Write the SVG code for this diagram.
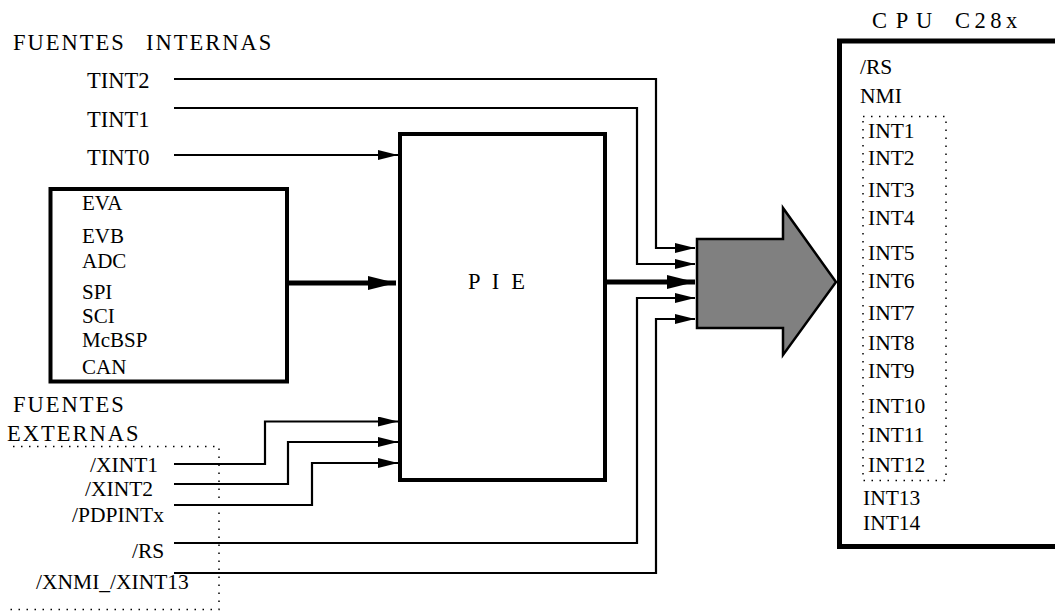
<svg xmlns="http://www.w3.org/2000/svg" width="1055" height="611" viewBox="0 0 1055 611">
<style>
text{font-family:"Liberation Serif","Times New Roman",serif;fill:#000;}
.t{font-size:22.5px;}
.h{font-size:22.5px;letter-spacing:2px;}
.s{font-size:21px;}
.c{font-size:21.5px;}
.box{fill:#fff;stroke:#000;stroke-width:4;}
.w{fill:none;stroke:#000;stroke-width:2.2;}
.wt{fill:none;stroke:#000;stroke-width:5;}
.dot{fill:none;stroke:#000;stroke-width:1.5;stroke-dasharray:1.5 6.5;}
</style>
<defs>
<marker id="ah" markerUnits="userSpaceOnUse" markerWidth="20" markerHeight="10" refX="20" refY="5" orient="auto"><path d="M0,0 L20,5 L0,10 Z" fill="#000"/></marker>
<marker id="ahT" markerUnits="userSpaceOnUse" markerWidth="28" markerHeight="14" refX="28" refY="7" orient="auto"><path d="M0,0 L28,7 L0,14 Z" fill="#000"/></marker>
</defs>
<rect width="1055" height="611" fill="#fff"/>

<g id="titulo-internas">
<text class="h" y="50"><tspan x="13">FUENTES</tspan> <tspan x="146">INTERNAS</tspan></text>
<text class="t" x="87" y="88">TINT2</text>
<text class="t" x="87" y="127">TINT1</text>
<text class="t" x="87" y="165">TINT0</text>
</g>

<g id="perifericos">
<rect class="box" x="50.5" y="189" width="236.5" height="192.5"/>
<text class="s" x="82" y="210">EVA</text>
<text class="s" x="82" y="243">EVB</text>
<text class="s" x="82" y="268">ADC</text>
<text class="s" x="82" y="299">SPI</text>
<text class="s" x="82" y="323">SCI</text>
<text class="s" x="82" y="347">McBSP</text>
<text class="s" x="82" y="374">CAN</text>
</g>

<g id="externas">
<text class="h" x="13" y="412">FUENTES</text>
<text class="h" x="7" y="441">EXTERNAS</text>
<path class="dot" d="M13,446.5 H219 V609.5 H8"/>
<text class="c" x="90" y="472">/XINT1</text>
<text class="c" x="85" y="496">/XINT2</text>
<text class="c" x="72" y="522">/PDPINTx</text>
<text class="c" x="132" y="558">/RS</text>
<text class="c" x="36" y="589">/XNMI_/XINT13</text>
</g>

<g id="pie">
<rect class="box" x="400" y="134" width="205" height="346"/>
<text class="t" x="468" y="289" letter-spacing="3.2">P I E</text>
</g>

<g id="flecha">
<polygon points="697,239 783,239 783,208 836,282 783,355 783,328 697,328" fill="#808080" stroke="#000" stroke-width="2.5" stroke-linejoin="miter"/>
</g>

<g id="cpu">
<path d="M1060,41 H839.5 V546.5 H1060" fill="#fff" stroke="#000" stroke-width="5"/>
<text class="t" y="28"><tspan x="872" letter-spacing="1.5">C P U</tspan> <tspan x="955" letter-spacing="4.5">C28x</tspan></text>
<text class="c" x="860" y="74">/RS</text>
<text class="c" x="860" y="103">NMI</text>
<rect class="dot" x="863" y="116.5" width="83" height="364"/>
<text class="c" x="868" y="138">INT1</text>
<text class="c" x="868" y="165">INT2</text>
<text class="c" x="868" y="197">INT3</text>
<text class="c" x="868" y="225">INT4</text>
<text class="c" x="868" y="260">INT5</text>
<text class="c" x="868" y="288">INT6</text>
<text class="c" x="868" y="320">INT7</text>
<text class="c" x="868" y="350">INT8</text>
<text class="c" x="868" y="378">INT9</text>
<text class="c" x="868" y="413">INT10</text>
<text class="c" x="868" y="442">INT11</text>
<text class="c" x="868" y="472">INT12</text>
<text class="c" x="863" y="505">INT13</text>
<text class="c" x="863" y="530">INT14</text>
</g>

<g id="conectores">
<path class="w" marker-end="url(#ah)" d="M174,79 H656 V248 H695"/>
<path class="w" marker-end="url(#ah)" d="M174,108 H637 V264 H695"/>
<path class="w" marker-end="url(#ah)" d="M174,155 H398"/>
<path class="w" marker-end="url(#ah)" d="M174,464 H265 V421.5 H398"/>
<path class="w" marker-end="url(#ah)" d="M174,484 H288 V442 H398"/>
<path class="w" marker-end="url(#ah)" d="M174,505 H312 V463 H398"/>
<path class="w" marker-end="url(#ah)" d="M174,543 H637 V298 H695"/>
<path class="w" marker-end="url(#ah)" d="M174,573 H656 V319 H695"/>
<path class="wt" marker-end="url(#ahT)" d="M287,283 H396"/>
<path class="wt" marker-end="url(#ahT)" d="M605,282 H695"/>
</g>
</svg>
